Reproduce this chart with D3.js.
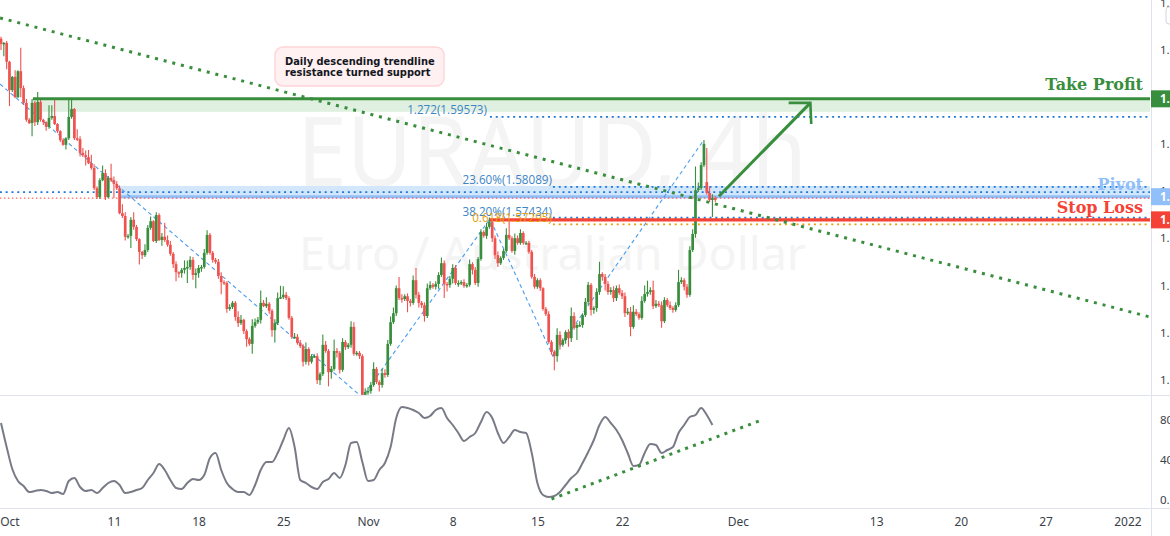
<!DOCTYPE html>
<html><head><meta charset="utf-8">
<script src="https://cdn.jsdelivr.net/npm/d3@7"></script>
<style>html,body{margin:0;padding:0;background:#fff;overflow:hidden}svg{display:block}</style>
</head><body><svg id="c" width="1170" height="536"></svg>
<script>
const closes=[
1.6112,1.6114,1.6074,1.6014,1.6042,1.5999,1.6054,1.6018,1.5987,1.5951,
1.5944,1.5987,1.5946,1.5989,1.5951,1.5946,1.5936,1.5955,1.5959,1.5942,
1.5927,1.5908,1.5898,1.5912,1.5957,1.5974,1.5912,1.5910,1.5881,1.5876,
1.5872,1.5859,1.5849,1.5806,1.5787,1.5823,1.5838,1.5787,1.5828,1.5823,
1.5815,1.5806,1.5753,1.5747,1.5703,1.5705,1.5739,1.5724,1.5698,1.5671,
1.5664,1.5675,1.5722,1.5736,1.5694,1.5749,1.5696,1.5703,1.5696,1.5686,
1.5667,1.5645,1.5628,1.5626,1.5633,1.5637,1.5639,1.5654,1.5622,1.5626,
1.5637,1.5639,1.5669,1.5707,1.5669,1.5654,1.5650,1.5620,1.5607,1.5605,
1.5550,1.5554,1.5563,1.5533,1.5520,1.5527,1.5503,1.5486,1.5476,1.5514,
1.5522,1.5527,1.5563,1.5556,1.5561,1.5546,1.5505,1.5520,1.5573,1.5575,
1.5580,1.5573,1.5531,1.5491,1.5491,1.5478,1.5471,1.5438,1.5465,1.5438,
1.5450,1.5450,1.5399,1.5412,1.5474,1.5461,1.5416,1.5423,1.5461,1.5457,
1.5421,1.5480,1.5469,1.5474,1.5512,1.5455,1.5457,1.5450,1.5368,1.5374,
1.5376,1.5389,1.5423,1.5395,1.5389,1.5414,1.5410,1.5476,1.5522,1.5541,
1.5594,1.5573,1.5571,1.5577,1.5567,1.5563,1.5611,1.5580,1.5563,1.5558,
1.5535,1.5594,1.5601,1.5597,1.5603,1.5622,1.5647,1.5603,1.5601,1.5614,
1.5637,1.5605,1.5605,1.5607,1.5599,1.5601,1.5645,1.5633,1.5605,1.5656,
1.5713,1.5705,1.5724,1.5734,1.5700,1.5664,1.5647,1.5658,1.5673,1.5707,
1.5700,1.5673,1.5700,1.5690,1.5711,1.5690,1.5690,1.5671,1.5618,1.5597,
1.5611,1.5594,1.5550,1.5539,1.5480,1.5459,1.5450,1.5495,1.5474,1.5484,
1.5501,1.5488,1.5535,1.5510,1.5516,1.5516,1.5537,1.5565,1.5601,1.5548,
1.5552,1.5586,1.5624,1.5618,1.5603,1.5586,1.5590,1.5573,1.5594,1.5584,
1.5577,1.5541,1.5544,1.5512,1.5544,1.5539,1.5531,1.5567,1.5582,1.5586,
1.5590,1.5556,1.5561,1.5558,1.5524,1.5569,1.5558,1.5552,1.5548,1.5558,
1.5607,1.5611,1.5597,1.5580,1.5675,1.5709,1.5802,1.5806,1.5855,1.5900,
1.5796,1.5781,1.5785,1.5781];
const firstOpen=1.6123;
const gapOpens={250:1.5819};
const wickUpPips=[
4,2,4,2,2,14,2,50,6,8, 4,8,4,21,4,2,2,27,23,38, 2,2,4,2,40,21,2,19,6,10,
10,15,18,8,4,4,16,8,4,30, 8,6,6,19,8,4,6,16,4,2, 2,12,6,10,2,6,4,8,30,10,
8,4,6,2,4,16,14,8,6,10, 6,4,8,10,4,4,4,6,8,4, 4,6,4,4,12,10,2,4,4,14,
8,6,26,6,14,4,4,8,12,24, 18,6,4,4,8,6,6,4,14,4, 4,4,6,4,22,8,4,6,24,6,
4,8,4,4,12,10,4,4,4,8, 8,6,14,4,4,10,8,8,12,12, 6,24,8,4,6,4,10,26,6,4,
6,10,8,4,6,6,12,6,4,6, 8,6,6,4,6,4,10,4,6,4, 6,4,8,10,4,6,8,4,4,14,
30,4,10,6,8,4,4,4,4,6, 4,4,2,4,6,4,4,14,8,4, 4,6,18,8,4,8,4,8,6,4,
4,8,26,4,6,6,6,8,6,8, 6,8,8,10,14,6,4,10,18,24, 6,20,8,6,8,6,4,8,4,6,
26,6,4,6,8,10,50,12,6,8, 72,14,8,4];
const wickDownPips=[
13,26,16,34,4,2,2,19,4,4, 2,28,8,6,4,6,8,4,4,2, 4,4,2,10,4,4,4,4,8,4,
18,2,4,4,4,4,2,6,2,4, 30,4,2,4,8,4,26,6,4,27, 8,4,4,4,2,4,2,12,4,4,
4,8,19,10,10,8,32,6,10,28, 10,8,4,4,4,6,4,6,26,4, 8,4,4,8,8,4,6,16,4,21,
4,4,8,2,4,6,14,26,4,2, 4,4,4,4,4,4,4,10,6,8, 4,4,8,10,4,4,30,14,4,10,
8,4,6,4,6,4,4,6,4,10, 6,6,4,4,14,6,6,4,4,4, 6,4,8,4,24,8,4,8,10,6,
12,4,4,4,6,10,4,30,14,6, 10,4,8,4,4,4,4,10,4,8, 4,4,6,4,8,8,8,4,4,4,
4,4,8,4,4,4,4,4,4,4, 4,6,4,4,4,6,30,12,10,4, 8,18,8,4,26,4,6,4,6,12,
8,8,6,8,14,6,6,8,6,4, 6,8,4,20,4,4,4,4,4,6, 6,6,4,4,14,4,4,4,6,4,
4,4,8,6,4,4,8,4,4,4, 4,4,36,4];
// oscillator, one reading per two candles
const oscillator=[
77,53,31,19,14,8,9,10,9,7,8,6,19,22,13,9,10,7,12,17,19,15,7,8,10,12,20,27,36,30,
20,12,11,17,21,20,25,42,47,30,17,11,8,8,5,15,30,38,38,47,60,72,53,20,17,13,11,18,21,27,
22,35,57,58,38,19,20,30,37,53,82,93,92,90,87,82,84,90,92,82,75,67,59,63,67,78,88,82,67,57,
63,70,68,67,47,17,5,3,4,8,15,22,27,37,48,60,75,83,77,70,60,47,34,35,47,56,55,47,50,53,
67,75,83,85,92,85,75];
const priceTicks=[1.62,1.61,1.60,1.59,1.58,1.57,1.56,1.55,1.54];
const oscTicks=[80,40,0];
const oscTickLabels=["80","40","0."];
const dateTickCandles=[3,40,70,100,130,160,190,220,261,310,340,370,399];
const dateTickLabels=["Oct","11","18","25","Nov","8","15","22","Dec","13","20","27","2022"];
const takeProfit=1.59955, takeProfitZoneLow=1.5968;
const pivot=1.5788, pivotZoneHigh=1.58107, pivotZoneLow=1.5785, pivotDotted=1.57979, pivotRedDotted=1.5785;
const stopLoss=1.57389;
const fib1272=1.59573, fib236=1.58089, fib382=1.57434, fib618=1.57295;
const fibPathCandles=[-0.35,127.9,173.2,195.5,248.7];
const fibPathPrices=[1.6027,1.5363,1.5741,1.5450,1.5906];
const trendCandles=[-0.35,407], trendPrices=[1.6167,1.5533];
const oscTrendCandles=[195,268.5], oscTrendValues=[1,79];
const arrowCandles=[254.3,286.7,279,286.7,287], arrowPrices=[1.5789,1.5987,1.5987,1.5987,1.5942];

const svg=d3.select("#c");
const x=d3.scaleLinear().domain([0,407]).range([1,1150]);
const y=d3.scaleLinear().domain([1.6205,1.53676]).range([0,395]);
const yo=d3.scaleLinear().domain([0,80]).range([500,420]);
const GREEN="#388e3c",RED="#f44336",CR="#ef5350",BLUE="#1e78d8",BL="#90bff9",OR="#e6a10c",GRID="#e0e3eb";
const defs=svg.append("defs");
defs.append("clipPath").attr("id","main").append("rect").attr("width",1151).attr("height",395);
defs.append("clipPath").attr("id","plot").append("rect").attr("width",1151).attr("height",508);

const wm=svg.append("g").attr("fill","#f4f4f5").attr("font-family","'Noto Sans',sans-serif");
wm.append("text").attr("x",297).attr("y",186).attr("font-size",96).attr("textLength",510).attr("lengthAdjust","spacingAndGlyphs").text("EURAUD, 4h");
wm.append("text").attr("x",299).attr("y",270).attr("font-size",46).attr("textLength",507).attr("lengthAdjust","spacingAndGlyphs").text("Euro / Australian Dollar");

const main=svg.append("g").attr("clip-path","url(#main)");
const hline=(g,p,i0,col,w,dash)=>{const l=g.append("line").attr("x1",x(i0)).attr("x2",x(407)).attr("y1",y(p)).attr("y2",y(p)).attr("stroke",col).attr("stroke-width",w);if(dash)l.attr("stroke-dasharray",dash);return l;};
main.append("rect").attr("x",x(11.3)).attr("width",x(407)-x(11.3)).attr("y",y(takeProfit)).attr("height",y(takeProfitZoneLow)-y(takeProfit)).attr("fill","#dff0e0");
main.append("rect").attr("x",x(42.2)).attr("width",x(407)-x(42.2)).attr("y",y(pivotZoneHigh)).attr("height",y(pivotZoneLow)-y(pivotZoneHigh)).attr("fill","#d3e7fc");
hline(main,pivot,42.2,BL,3);
hline(main,pivotDotted,-0.4,BLUE,1.8,"2 3.8");
hline(main,pivotRedDotted,-0.4,RED,1,"1.5 2.5");

const fibLine=d3.line().x(d=>x(d[0])).y(d=>y(d[1]));
main.append("path").attr("d",fibLine(fibPathCandles.map((c,i)=>[c,fibPathPrices[i]]))).attr("fill","none").attr("stroke","#4a9cec").attr("stroke-width",1.1).attr("stroke-dasharray","4 3");

hline(main,fib1272,173.2,BLUE,1.8,"2 3.8");
hline(main,fib236,195.5,BLUE,1.8,"2 3.8");
hline(main,fib382,195.5,BLUE,1.8,"2 3.8");
hline(main,fib618,195.5,OR,1.8,"2 3.8");

const candles=closes.map((c,i)=>{const o=gapOpens[i]!==undefined?gapOpens[i]:(i===0?firstOpen:closes[i-1]);
 return {i,o,c,h:Math.max(o,c)+wickUpPips[i]/1e4,l:Math.min(o,c)-wickDownPips[i]/1e4};});
const cg=main.append("g");
const col=d=>d.c>=d.o?GREEN:CR;
cg.selectAll("line").data(candles).join("line").attr("x1",d=>x(d.i)).attr("x2",d=>x(d.i)).attr("y1",d=>y(d.h)).attr("y2",d=>y(d.l)).attr("stroke",col).attr("stroke-width",1.1);
cg.selectAll("rect").data(candles).join("rect").attr("x",d=>x(d.i)-1.35).attr("width",2.7).attr("y",d=>y(Math.max(d.o,d.c))).attr("height",d=>Math.max(1.5,Math.abs(y(d.o)-y(d.c)))).attr("fill",col);

hline(main,takeProfit,11.3,GREEN,3);
hline(main,stopLoss,173.2,RED,3.2);

const plot=svg.append("g").attr("clip-path","url(#plot)");
plot.append("line").attr("x1",x(trendCandles[0])).attr("x2",x(trendCandles[1])).attr("y1",y(trendPrices[0])).attr("y2",y(trendPrices[1])).attr("stroke",GREEN).attr("stroke-width",3).attr("stroke-dasharray","3 5.9");
const arrowLine=d3.line().x(d=>x(d[0])).y(d=>y(d[1]));
const ap=arrowCandles.map((c,i)=>[c,arrowPrices[i]]);
plot.append("path").attr("d",arrowLine([ap[0],ap[1]])).attr("fill","none").attr("stroke",GREEN).attr("stroke-width",3);
plot.append("path").attr("d",arrowLine([ap[2],ap[3],ap[4]])).attr("fill","none").attr("stroke",GREEN).attr("stroke-width",2.6);

const osc=d3.line().x((d,i)=>x(i*2)).y(d=>yo(d)).curve(d3.curveMonotoneX);
plot.append("path").attr("d",osc(oscillator)).attr("fill","none").attr("stroke","#787b86").attr("stroke-width",2);
plot.append("line").attr("x1",x(oscTrendCandles[0])).attr("x2",x(oscTrendCandles[1])).attr("y1",yo(oscTrendValues[0])).attr("y2",yo(oscTrendValues[1])).attr("stroke",GREEN).attr("stroke-width",3).attr("stroke-dasharray","3 5.4");

// annotation
const note=svg.append("g");
note.append("rect").attr("x",275).attr("y",47).attr("width",169).attr("height",39).attr("rx",8).attr("fill","#fff0f1").attr("stroke","#ffd3d7").attr("stroke-width",1.4);
const noteText=(t,yy)=>note.append("text").attr("x",285).attr("y",yy).attr("font-family","'DejaVu Sans',sans-serif").attr("font-weight",700).attr("font-size",9.9).attr("fill","#131722").text(t);
noteText("Daily descending trendline",65);
noteText("resistance turned support",75.5);

const fibText=(t,xr,yy,c)=>svg.append("text").attr("x",xr).attr("y",yy).attr("text-anchor","end").attr("font-family","'Open Sans',sans-serif").attr("font-size",11.7).attr("fill",c).text(t);
fibText("1.272(1.59573)",487,114,"#3d85c6");
fibText("23.60%(1.58089)",552,184,"#3d85c6");
fibText("38.20%(1.57434)",552,216,"#3d85c6");
fibText("0.618(1.57295)",552,222,OR);

const big=(t,yy,c)=>svg.append("text").attr("x",1143).attr("y",yy).attr("text-anchor","end").attr("font-family","'DejaVu Serif',serif").attr("font-weight",700).attr("font-size",16).attr("fill",c).text(t);
big("Take Profit",90,GREEN);
big("Pivot",189.5,BL);
big("Stop Loss",212.5,RED);

// axes
const frame=svg.append("g").attr("stroke",GRID).attr("stroke-width",1);
frame.append("line").attr("x1",1151.5).attr("x2",1151.5).attr("y1",0).attr("y2",536);
frame.append("line").attr("x1",0).attr("x2",1170).attr("y1",395.5).attr("y2",395.5);
frame.append("line").attr("x1",0).attr("x2",1170).attr("y1",508.5).attr("y2",508.5);

const FONT="'Noto Sans',sans-serif";
const styleAxis=g=>{g.select(".domain").remove();g.selectAll("line").remove();g.selectAll("text").attr("font-family",FONT).attr("font-size",11.5).attr("fill","#3b3f4a");};
const cutLabel=d=>d3.format(".5f")(d).slice(0,2);
svg.append("g").attr("transform","translate(1152,0)").call(d3.axisRight(y).tickValues(priceTicks).tickFormat(cutLabel).tickSize(0).tickPadding(8)).call(styleAxis);
svg.append("g").attr("transform","translate(1152,0)").call(d3.axisRight(yo).tickValues(oscTicks).tickFormat((d,i)=>oscTickLabels[i]).tickSize(0).tickPadding(8)).call(styleAxis);
svg.append("g").attr("transform","translate(0,508)").call(d3.axisBottom(x).tickValues(dateTickCandles).tickFormat((d,i)=>dateTickLabels[i]).tickSize(0).tickPadding(9)).call(g=>{styleAxis(g);g.selectAll("text").attr("font-size",12);});

const tag=(p,c)=>{svg.append("rect").attr("x",1151).attr("width",19).attr("y",y(p)-8.5).attr("height",17).attr("fill",c);
 svg.append("text").attr("x",1160).attr("y",y(p)+4).attr("font-family",FONT).attr("font-size",11.5).attr("font-weight",700).attr("fill","#fff").text(cutLabel(p));};
tag(takeProfit,GREEN);
tag(pivot,BL);
tag(stopLoss,RED);
svg.append("rect").attr("x",1166).attr("y",7).attr("width",12).attr("height",17).attr("rx",3).attr("fill","none").attr("stroke","#d1d4dc");
</script></body></html>
